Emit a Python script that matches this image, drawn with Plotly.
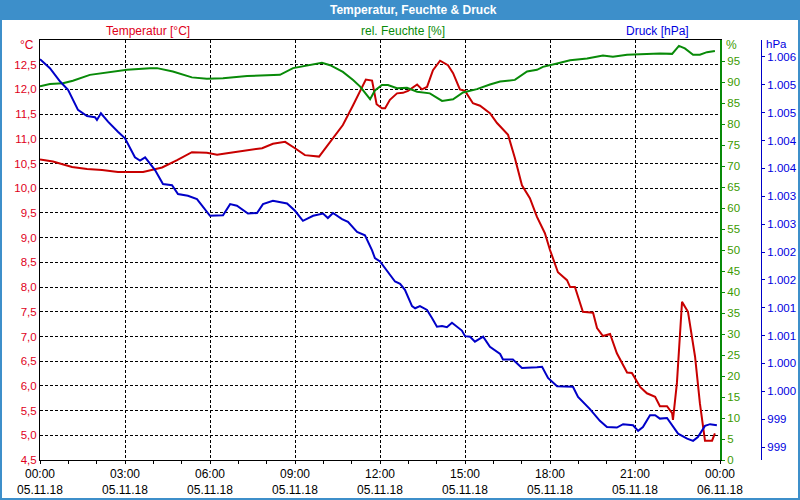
import pandas as pd
import plotly.graph_objects as go

# ---------------- data ----------------
day = "2018-11-05"

temp_hours = [0, 0.46, 1.13, 1.66, 2.19, 2.75, 3.64, 4.31, 4.84, 5.36, 5.89, 6.25, 6.6, 7.31, 7.84,
              8.22, 8.65, 9.0, 9.35, 9.85, 10.34, 10.69, 11.05, 11.36, 11.5, 11.72, 11.8, 11.88,
              12.07, 12.18, 12.35, 12.6, 12.81, 12.99, 13.31, 13.48, 13.66, 13.87, 14.12, 14.4,
              14.58, 14.82, 15.0, 15.28, 15.53, 15.88, 16.13, 16.34, 16.52, 16.76, 17.01, 17.29,
              17.54, 17.82, 18.0, 18.28, 18.6, 18.71, 18.88, 19.16, 19.52, 19.66, 19.87, 20.12,
              20.36, 20.72, 20.89, 21.18, 21.42, 21.71, 21.88, 22.13, 22.31, 22.34, 22.48, 22.66,
              22.87, 23.12, 23.29, 23.47, 23.72, 23.82]
temp_values = [10.58, 10.54, 10.43, 10.39, 10.37, 10.33, 10.33, 10.42, 10.57, 10.73, 10.72, 10.68,
               10.71, 10.76, 10.81, 10.9, 10.94, 10.81, 10.67, 10.64, 11.02, 11.28, 11.68, 12.05,
               12.2, 12.18, 11.9, 11.7, 11.62, 11.62, 11.79, 11.92, 11.93, 11.97, 12.1, 12.0, 12.05,
               12.39, 12.58, 12.49, 12.33, 12.0, 11.97, 11.72, 11.67, 11.52, 11.32, 11.2, 11.08,
               10.61, 10.06, 9.8, 9.42, 9.09, 8.75, 8.3, 8.14, 8.0, 8.0, 7.5, 7.48, 7.17, 7.01,
               7.05, 6.66, 6.27, 6.26, 5.98, 5.85, 5.78, 5.59, 5.59, 5.45, 5.31, 6.06, 7.7, 7.5,
               6.59, 5.65, 4.89, 4.89, 5.04]

hum_hours = [0, 0.35, 0.81, 1.16, 1.76, 2.36, 3.07, 3.88, 4.13, 4.69, 5.36, 5.89, 6.46, 7.31, 8.47,
             8.93, 9.53, 9.95, 10.24, 10.69, 11.05, 11.3, 11.65, 11.82, 12.07, 12.28, 12.6, 12.95,
             13.31, 13.76, 14.19, 14.58, 14.93, 15.42, 15.88, 16.24, 16.76, 17.19, 17.54, 17.75,
             18.25, 18.71, 19.31, 19.87, 20.22, 20.72, 21.18, 21.88, 22.31, 22.55, 22.76, 23.05,
             23.29, 23.54, 23.82]
hum_values = [89.0, 89.5, 89.7, 90.3, 91.7, 92.2, 92.9, 93.3, 93.3, 92.5, 91.1, 90.8, 90.9, 91.4,
              91.7, 93.3, 94.1, 94.6, 94.0, 92.4, 90.5, 88.9, 85.9, 88.0, 89.3, 89.3, 88.5, 88.6,
              87.7, 87.3, 85.5, 85.9, 87.5, 88.3, 89.4, 90.1, 90.5, 92.5, 92.9, 93.6, 94.4, 95.2,
              95.6, 96.3, 96.0, 96.5, 96.6, 96.8, 96.7, 98.6, 98.0, 96.5, 96.5, 97.1, 97.4]

pres_hours = [0, 0.35, 0.71, 0.99, 1.34, 1.66, 1.94, 2.01, 2.15, 2.4, 2.75, 3.0, 3.35, 3.53, 3.71,
              4.06, 4.34, 4.66, 4.87, 5.22, 5.54, 6.0, 6.46, 6.71, 6.95, 7.34, 7.66, 7.87, 8.22,
              8.72, 9.0, 9.28, 9.64, 9.99, 10.16, 10.34, 10.66, 10.87, 11.19, 11.47, 11.72, 11.82,
              12.0, 12.28, 12.53, 12.71, 12.88, 13.13, 13.24, 13.41, 13.66, 13.84, 14.01, 14.19,
              14.36, 14.54, 14.72, 14.89, 15.0, 15.18, 15.35, 15.64, 15.88, 16.24, 16.34, 16.69,
              17.01, 17.29, 17.54, 17.72, 17.93, 18.25, 18.6, 18.81, 18.99, 19.41, 19.76, 20.01,
              20.36, 20.58, 20.93, 21.11, 21.28, 21.53, 21.71, 21.88, 22.13, 22.34, 22.52, 22.84,
              23.05, 23.22, 23.47, 23.65, 23.89]
pres_values = [1005.96, 1005.80, 1005.56, 1005.41, 1005.05, 1004.94, 1004.92, 1004.87, 1004.99,
               1004.84, 1004.66, 1004.54, 1004.20, 1004.14, 1004.20, 1003.97, 1003.72, 1003.70,
               1003.54, 1003.51, 1003.45, 1003.15, 1003.16, 1003.36, 1003.33, 1003.19, 1003.20,
               1003.36, 1003.42, 1003.37, 1003.24, 1003.06, 1003.15, 1003.19, 1003.11, 1003.20,
               1003.09, 1003.04, 1002.86, 1002.80, 1002.53, 1002.39, 1002.33, 1002.15, 1001.97,
               1001.93, 1001.82, 1001.53, 1001.49, 1001.53, 1001.46, 1001.31, 1001.16, 1001.17,
               1001.15, 1001.23, 1001.16, 1001.09, 1000.99, 1000.98, 1000.89, 1000.98, 1000.80,
               1000.67, 1000.57, 1000.57, 1000.42, 1000.42, 1000.43, 1000.44, 1000.24, 1000.09,
               1000.08, 1000.08, 999.90, 999.68, 999.47, 999.36, 999.35, 999.41, 999.39, 999.29,
               999.36, 999.57, 999.57, 999.51, 999.52, 999.37, 999.24, 999.15, 999.11, 999.18,
               999.38, 999.41, 999.39]

x_tick_hours = [0, 3, 6, 9, 12, 15, 18, 21, 24]
x_tick_labels = ["00:00<br>05.11.18", "03:00<br>05.11.18", "06:00<br>05.11.18",
                 "09:00<br>05.11.18", "12:00<br>05.11.18", "15:00<br>05.11.18",
                 "18:00<br>05.11.18", "21:00<br>05.11.18", "00:00<br>06.11.18"]
temp_ticks = [4.5 + 0.5 * i for i in range(17)]
hum_ticks = list(range(0, 100, 5))
pres_ticks = [999.0 + 0.5 * i for i in range(15)]
pres_labels = ["999", "999", "1.000", "1.000", "1.001", "1.001", "1.002", "1.002", "1.003",
               "1.003", "1.004", "1.004", "1.005", "1.005", "1.006"]

title_text = "Temperatur, Feuchte & Druck"
series_names = ["Temperatur [°C]", "rel. Feuchte [%]", "Druck [hPa]"]

# ---------------- helpers ----------------
t0 = pd.Timestamp(day)
def to_time(hours):
    return [t0 + pd.Timedelta(hours=h) for h in hours]

W, H = 800, 500
ML, MR, MT, MB = 40, 0, 40, 40
PW, PH = W - ML - MR, H - MT - MB
def px(x):
    return (x - ML) / PW
def py(y):
    return (H - MB - y) / PH

RED, RED_T = "#c80000", "#e0001a"
GREEN, GREEN_T = "#088a08", "#3c9a00"
BLUE, BLUE_T = "#0000c8", "#0000e0"
FRAME = "#3d8fca"
FONT = "Liberation Sans, Arial, sans-serif"
GRID = dict(showgrid=True, gridcolor="black", gridwidth=1, griddash="3px,2px")

fig = go.Figure()
fig.add_trace(go.Scatter(x=to_time(hum_hours), y=hum_values, mode="lines", yaxis="y2",
                         line=dict(color=GREEN, width=2), name=series_names[1]))
fig.add_trace(go.Scatter(x=to_time(pres_hours), y=pres_values, mode="lines", yaxis="y3",
                         line=dict(color=BLUE, width=2), name=series_names[2]))
fig.add_trace(go.Scatter(x=to_time(temp_hours), y=temp_values, mode="lines", yaxis="y",
                         line=dict(color=RED, width=2), name=series_names[0]))

xdom_end = px(720)
fig.update_layout(
    width=W, height=H, autosize=False,
    margin=dict(l=ML, r=MR, t=MT, b=MB, pad=0, autoexpand=False),
    paper_bgcolor="white", plot_bgcolor="white",
    showlegend=False,
    separators=",.",
    font=dict(family=FONT, size=12, color="black"),
    xaxis=dict(
        domain=[0, xdom_end], type="date", automargin=False,
        range=[t0, t0 + pd.Timedelta(hours=24)],
        tickvals=to_time(x_tick_hours), ticktext=x_tick_labels,
        ticks="outside", ticklen=3, tickcolor="black",
        minor=dict(ticks="outside", ticklen=3, tickcolor="black",
                   tickvals=to_time(list(range(25))), showgrid=False),
        showline=True, linecolor="black", linewidth=1, mirror=True,
        tickfont=dict(size=12, color="black"),
        zeroline=False, **GRID,
    ),
    yaxis=dict(
        range=[4.5, 13.0], tickvals=temp_ticks, tickformat=".1f", automargin=False,
        ticks="", showline=True, linecolor="black", linewidth=1,
        tickfont=dict(size=11.5, color=RED_T), zeroline=False, **GRID,
    ),
    yaxis2=dict(
        overlaying="y", side="right", anchor="x", range=[0, 100], automargin=False,
        tickvals=hum_ticks, ticks="outside", ticklen=3, tickcolor=GREEN,
        showline=True, linecolor=GREEN, linewidth=2,
        tickfont=dict(size=11.5, color=GREEN_T), showgrid=False, zeroline=False,
    ),
    yaxis3=dict(
        overlaying="y", side="right", anchor="free", position=px(761), automargin=False,
        range=[998.767, 1006.305], tickvals=pres_ticks, ticktext=pres_labels,
        ticks="outside", ticklen=3, tickcolor=BLUE,
        showline=True, linecolor=BLUE, linewidth=1,
        tickfont=dict(size=11.5, color=BLUE_T), showgrid=False, zeroline=False,
    ),
)

shapes = [
    # title bar
    dict(type="rect", xref="paper", yref="paper", x0=px(0), x1=px(800), y0=py(20), y1=py(0),
         fillcolor=FRAME, line=dict(width=0), layer="above"),
    # window borders
    dict(type="rect", xref="paper", yref="paper", x0=px(0), x1=px(2), y0=py(500), y1=py(0),
         fillcolor=FRAME, line=dict(width=0), layer="above"),
    dict(type="rect", xref="paper", yref="paper", x0=px(798), x1=px(800), y0=py(500), y1=py(0),
         fillcolor=FRAME, line=dict(width=0), layer="above"),
    dict(type="rect", xref="paper", yref="paper", x0=px(0), x1=px(800), y0=py(500), y1=py(498),
         fillcolor=FRAME, line=dict(width=0), layer="above"),
]
fig.update_layout(shapes=shapes)

ann = [
    dict(text=f"<b>{title_text}</b>", x=px(413), y=py(10), font=dict(size=12, color="white")),
    dict(text=series_names[0], x=px(148), y=py(31), font=dict(size=12, color=RED_T)),
    dict(text=series_names[1], x=px(403), y=py(31), font=dict(size=12, color=GREEN)),
    dict(text=series_names[2], x=px(657), y=py(31), font=dict(size=12, color=BLUE_T)),
    dict(text="°C", x=px(36), y=py(45), xanchor="right", font=dict(size=12, color=RED_T)),
    dict(text="%", x=px(724), y=py(45), xanchor="left", font=dict(size=12, color=GREEN_T)),
    dict(text="hPa", x=px(764), y=py(44), xanchor="left", font=dict(size=11.5, color=BLUE_T)),
]
for a in ann:
    a.setdefault("xanchor", "center")
    fig.add_annotation(xref="paper", yref="paper", showarrow=False, yanchor="middle",
                       font_family=FONT, **{k: v for k, v in a.items() if k != "font"},
                       font=dict(family=FONT, **a["font"]))

fig.write_html("out.html")
